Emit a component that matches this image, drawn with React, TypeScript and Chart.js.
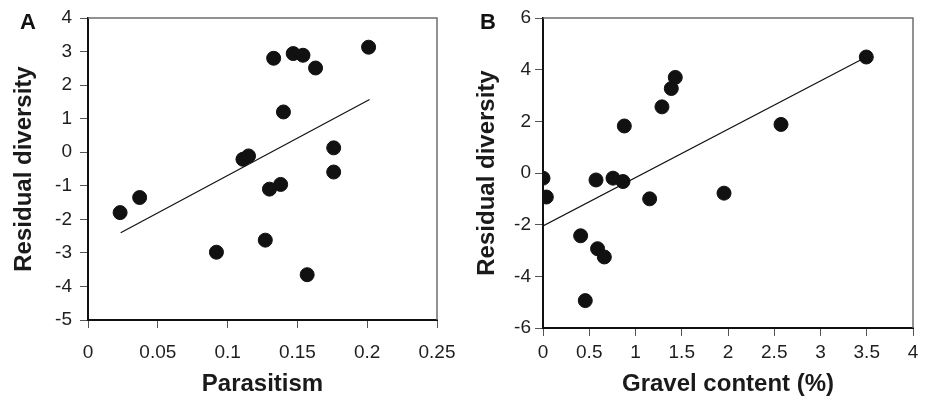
import React, { useEffect, useRef } from "react";
import { Chart, registerables } from "chart.js";
Chart.register(...registerables);

// Panel A data
const parasitism = [0.201, 0.133, 0.147, 0.154, 0.163, 0.14, 0.176, 0.176, 0.111, 0.115, 0.13, 0.138, 0.037, 0.023, 0.092, 0.127, 0.157];
const residualA = [3.13, 2.8, 2.94, 2.89, 2.51, 1.2, 0.13, -0.59, -0.21, -0.11, -1.1, -0.96, -1.35, -1.8, -2.98, -2.62, -3.65];
const fitAX = [0.0234, 0.2017];
const fitAY = [-2.4, 1.57];
const ticksAX = [0, 0.05, 0.1, 0.15, 0.2, 0.25];
const ticksAY = [-5, -4, -3, -2, -1, 0, 1, 2, 3, 4];

// Panel B data
const gravel = [3.495, 1.43, 1.387, 1.286, 0.879, 2.573, 0.0, 0.573, 0.757, 0.865, 0.036, 1.153, 1.957, 0.407, 0.59, 0.663, 0.457];
const residualB = [4.49, 3.7, 3.27, 2.56, 1.82, 1.88, -0.2, -0.27, -0.2, -0.33, -0.93, -1.0, -0.78, -2.43, -2.93, -3.25, -4.94];
const fitBX = [0, 3.5];
const fitBY = [-2.05, 4.5];
const ticksBX = [0, 0.5, 1, 1.5, 2, 2.5, 3, 3.5, 4];
const ticksBY = [-6, -4, -2, 0, 2, 4, 6];

const FONT = "'Liberation Sans', Arial, Helvetica, sans-serif";

const frame = {
  id: "frame",
  beforeDatasetsDraw(chart: any) {
    const { ctx, chartArea: a } = chart;
    ctx.save();
    ctx.strokeStyle = "#6e6e6e";
    ctx.lineWidth = 1.5;
    ctx.beginPath();
    ctx.moveTo(a.left, a.top);
    ctx.lineTo(a.right, a.top);
    ctx.lineTo(a.right, a.bottom);
    ctx.stroke();
    ctx.restore();
  },
};

type PanelProps = {
  left: number;
  width: number;
  xs: number[];
  ys: number[];
  fitX: number[];
  fitY: number[];
  ticksX: number[];
  ticksY: number[];
  xTitle: string;
  yTitle: string;
  yAxisWidth: number;
  xAxisHeight: number;
  padRight: number;
  yTickPad: number;
  xTickPad: number;
};

function Panel(p: PanelProps) {
  const ref = useRef<HTMLCanvasElement | null>(null);
  useEffect(() => {
    if (!ref.current) return;
    const pts = p.xs.map((x, i) => ({ x, y: p.ys[i] }));
    const fit = p.fitX.map((x, i) => ({ x, y: p.fitY[i] }));
    const chart = new Chart(ref.current, {
      type: "scatter",
      data: {
        datasets: [
          {
            type: "line",
            data: fit,
            borderColor: "#111",
            borderWidth: 1.2,
            pointRadius: 0,
            fill: false,
          } as any,
          {
            data: pts,
            backgroundColor: "#111",
            borderColor: "#111",
            borderWidth: 1,
            pointRadius: 7,
          },
        ],
      },
      options: {
        animation: false,
        responsive: false,
        events: [],
        layout: { padding: { left: 0, top: 18, right: p.padRight, bottom: 0 } },
        plugins: { legend: { display: false }, tooltip: { enabled: false } },
        scales: {
          x: {
            type: "linear",
            min: p.ticksX[0],
            max: p.ticksX[p.ticksX.length - 1],
            afterBuildTicks: (s: any) => {
              s.ticks = p.ticksX.map((v) => ({ value: v }));
            },
            afterFit: (s: any) => {
              s.height = p.xAxisHeight;
              s.paddingLeft = 0;
              s.paddingRight = 0;
            },
            ticks: {
              callback: (v: any) => String(v),
              color: "#1e1e1e",
              font: { family: FONT, size: 19 },
              padding: p.xTickPad,
              maxRotation: 0,
              autoSkip: false,
            },
            grid: { drawOnChartArea: false, drawTicks: true, tickLength: 8, color: "#555", lineWidth: 1 },
            border: { color: "#111", width: 2 },
            title: {
              display: true,
              text: p.xTitle,
              color: "#1a1a1a",
              font: { family: FONT, size: 24, weight: "bold" },
              padding: { top: 0, bottom: 1 },
            },
          },
          y: {
            type: "linear",
            min: p.ticksY[0],
            max: p.ticksY[p.ticksY.length - 1],
            afterBuildTicks: (s: any) => {
              s.ticks = p.ticksY.map((v) => ({ value: v }));
            },
            afterFit: (s: any) => {
              s.width = p.yAxisWidth;
              s.paddingTop = 0;
              s.paddingBottom = 0;
            },
            ticks: {
              callback: (v: any) => String(v),
              color: "#1e1e1e",
              font: { family: FONT, size: 19 },
              padding: p.yTickPad,
              autoSkip: false,
            },
            grid: { drawOnChartArea: false, drawTicks: true, tickLength: 8, color: "#555", lineWidth: 1 },
            border: { color: "#111", width: 2 },
            title: {
              display: true,
              text: p.yTitle,
              color: "#1a1a1a",
              font: { family: FONT, size: 24, weight: "bold" },
              padding: { top: 10, bottom: 0 },
            },
          },
        },
      } as any,
      plugins: [frame],
    });
    return () => chart.destroy();
  }, []);
  return (
    <canvas
      ref={ref}
      width={p.width}
      height={400}
      style={{ position: "absolute", left: p.left, top: 0, width: p.width, height: 400, display: "block" }}
    />
  );
}

const labelStyle: React.CSSProperties = {
  position: "absolute",
  fontFamily: FONT,
  fontWeight: "bold",
  fontSize: 22,
  lineHeight: "22px",
  color: "#111",
};

export default function App() {
  return (
    <div style={{ position: "absolute", left: 0, top: 0, width: 927, height: 400, background: "#fff", overflow: "hidden" }}>
      <Panel
        left={0}
        width={463}
        xs={parasitism}
        ys={residualA}
        fitX={fitAX}
        fitY={fitAY}
        ticksX={ticksAX}
        ticksY={ticksAY}
        xTitle="Parasitism"
        yTitle="Residual diversity"
        yAxisWidth={88}
        xAxisHeight={80}
        padRight={26}
        yTickPad={8}
        xTickPad={13}
      />
      <Panel
        left={463}
        width={464}
        xs={gravel}
        ys={residualB}
        fitX={fitBX}
        fitY={fitBY}
        ticksX={ticksBX}
        ticksY={ticksBY}
        xTitle="Gravel content (%)"
        yTitle="Residual diversity"
        yAxisWidth={80}
        xAxisHeight={72}
        padRight={14}
        yTickPad={4}
        xTickPad={5}
      />
      <span style={{ ...labelStyle, left: 20, top: 11 }}>A</span>
      <span style={{ ...labelStyle, left: 480, top: 11 }}>B</span>
    </div>
  );
}
